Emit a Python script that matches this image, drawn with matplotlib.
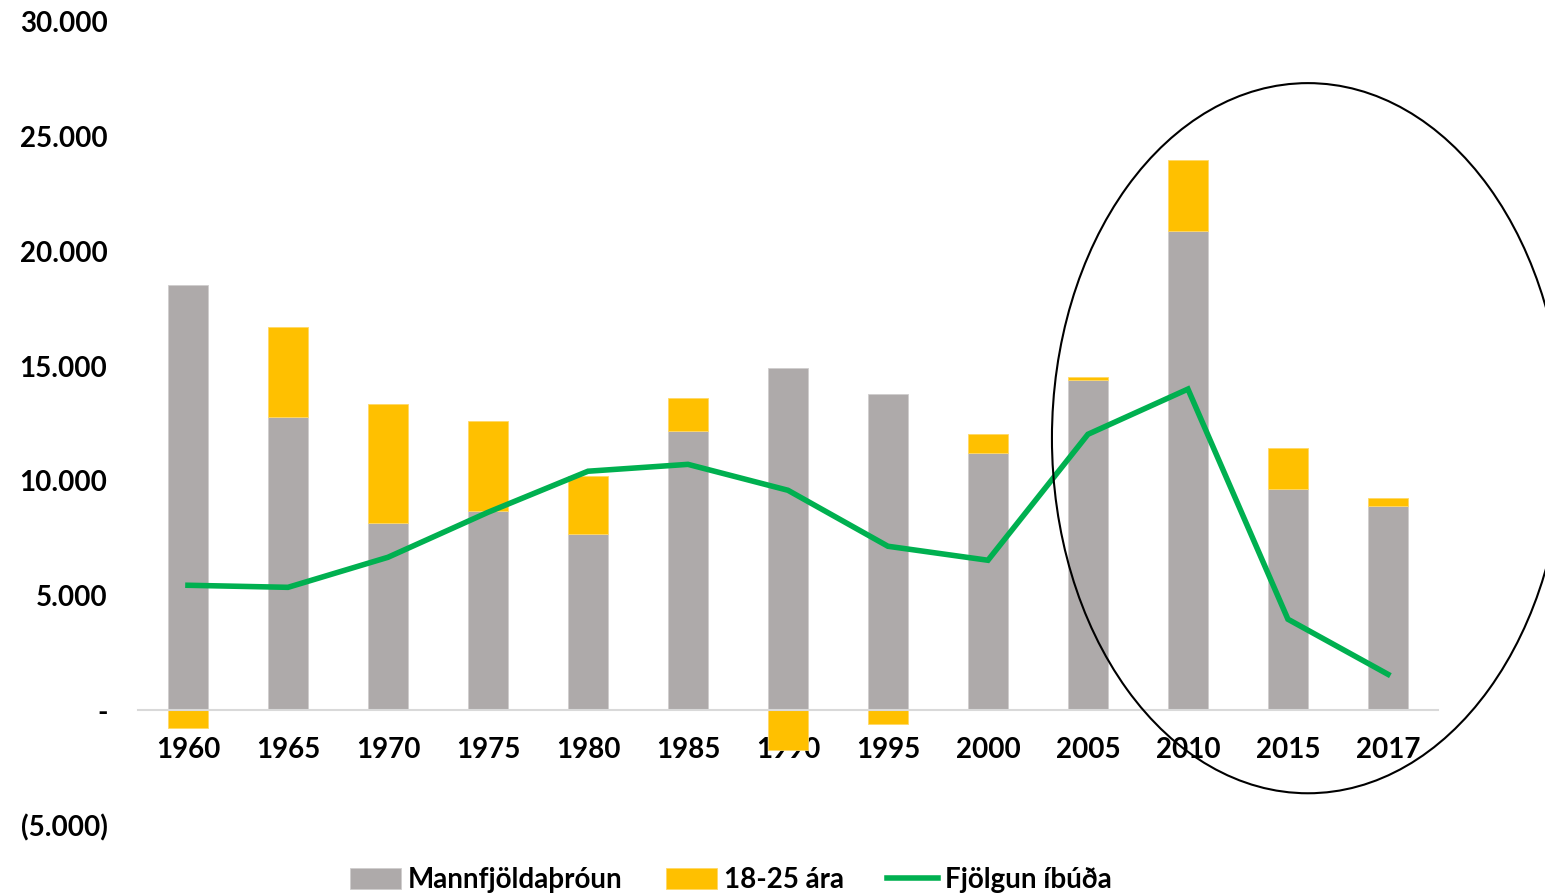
import numpy as np
import matplotlib.pyplot as plt
from matplotlib.patches import Ellipse
from matplotlib.ticker import FuncFormatter

plt.rcParams['font.family'] = ['Lato', 'DejaVu Sans']
plt.rcParams['font.weight'] = 'bold'

years = ["1960", "1965", "1970", "1975", "1980", "1985", "1990",
         "1995", "2000", "2005", "2010", "2015", "2017"]
mannfjoldi = [18530, 12800, 8150, 8700, 7670, 12160, 14900,
              13770, 11200, 14390, 20880, 9630, 8890]
ungir = [-750, 3900, 5200, 3900, 2530, 1440, -1750,
         -600, 830, 130, 3100, 1790, 350]
ibudir = [5450, 5360, 6670, 8630, 10420, 10720, 9590,
          7150, 6540, 12030, 14000, 3970, 1570]

gray = "#AEAAAA"
yellow = "#FFC000"
green = "#00B050"

fig = plt.figure(figsize=(15.45, 8.93), dpi=100)
ax = fig.add_axes([0.0893, 0.0761, 0.8414, 0.8993])

x = np.arange(len(years))
mannfjoldi = np.array(mannfjoldi)
ungir = np.array(ungir)
# stacked like excel: positive on top of gray, negative below zero
bottoms = np.where(ungir >= 0, mannfjoldi, 0)

b1 = ax.bar(x, mannfjoldi, width=0.4, color=gray, edgecolor="#D0CECE", linewidth=0.6,
            label="Mannfjöldaþróun", zorder=2)
b2 = ax.bar(x, ungir, width=0.4, bottom=bottoms, color=yellow, edgecolor="#FFD966",
            linewidth=0.6, label="18-25 ára", zorder=2)
l1, = ax.plot(x, ibudir, color=green, linewidth=4, label="Fjölgun íbúða", zorder=3,
              solid_joinstyle="miter")

# circle around the latest years
ell = Ellipse((11.2, 11860), width=5.12, height=30950, fill=False,
              edgecolor="black", linewidth=1.5, clip_on=False, zorder=4)
ax.add_patch(ell)

ax.set_xlim(-0.5, 12.5)
ax.set_ylim(-5000, 30000)
ax.set_yticks(np.arange(-5000, 30001, 5000))


def fmt(v, pos):
    if v == 0:
        return "-"
    if v < 0:
        return "({:,.0f})".format(-v).replace(",", ".")
    return "{:,.0f}".format(v).replace(",", ".")


ax.yaxis.set_major_formatter(FuncFormatter(fmt))
ax.set_xticks(x)
ax.set_xticklabels(years)
ax.tick_params(axis="both", length=0, labelsize=20)
ax.tick_params(axis="y", pad=22)
ax.tick_params(axis="x", pad=19)
for sp in ["top", "right", "left"]:
    ax.spines[sp].set_visible(False)
ax.spines["bottom"].set_position(("data", 0))
ax.spines["bottom"].set_color("#D9D9D9")
ax.spines["bottom"].set_linewidth(1.5)
ax.set_axisbelow(True)

fig.legend(handles=[b1, b2, l1], loc="center", bbox_to_anchor=(0.473, 0.014), ncol=3,
           frameon=False, fontsize=20, handlelength=1.85, handleheight=0.8,
           columnspacing=1.55, handletextpad=0.25)

fig.savefig("out.png", dpi=100)
